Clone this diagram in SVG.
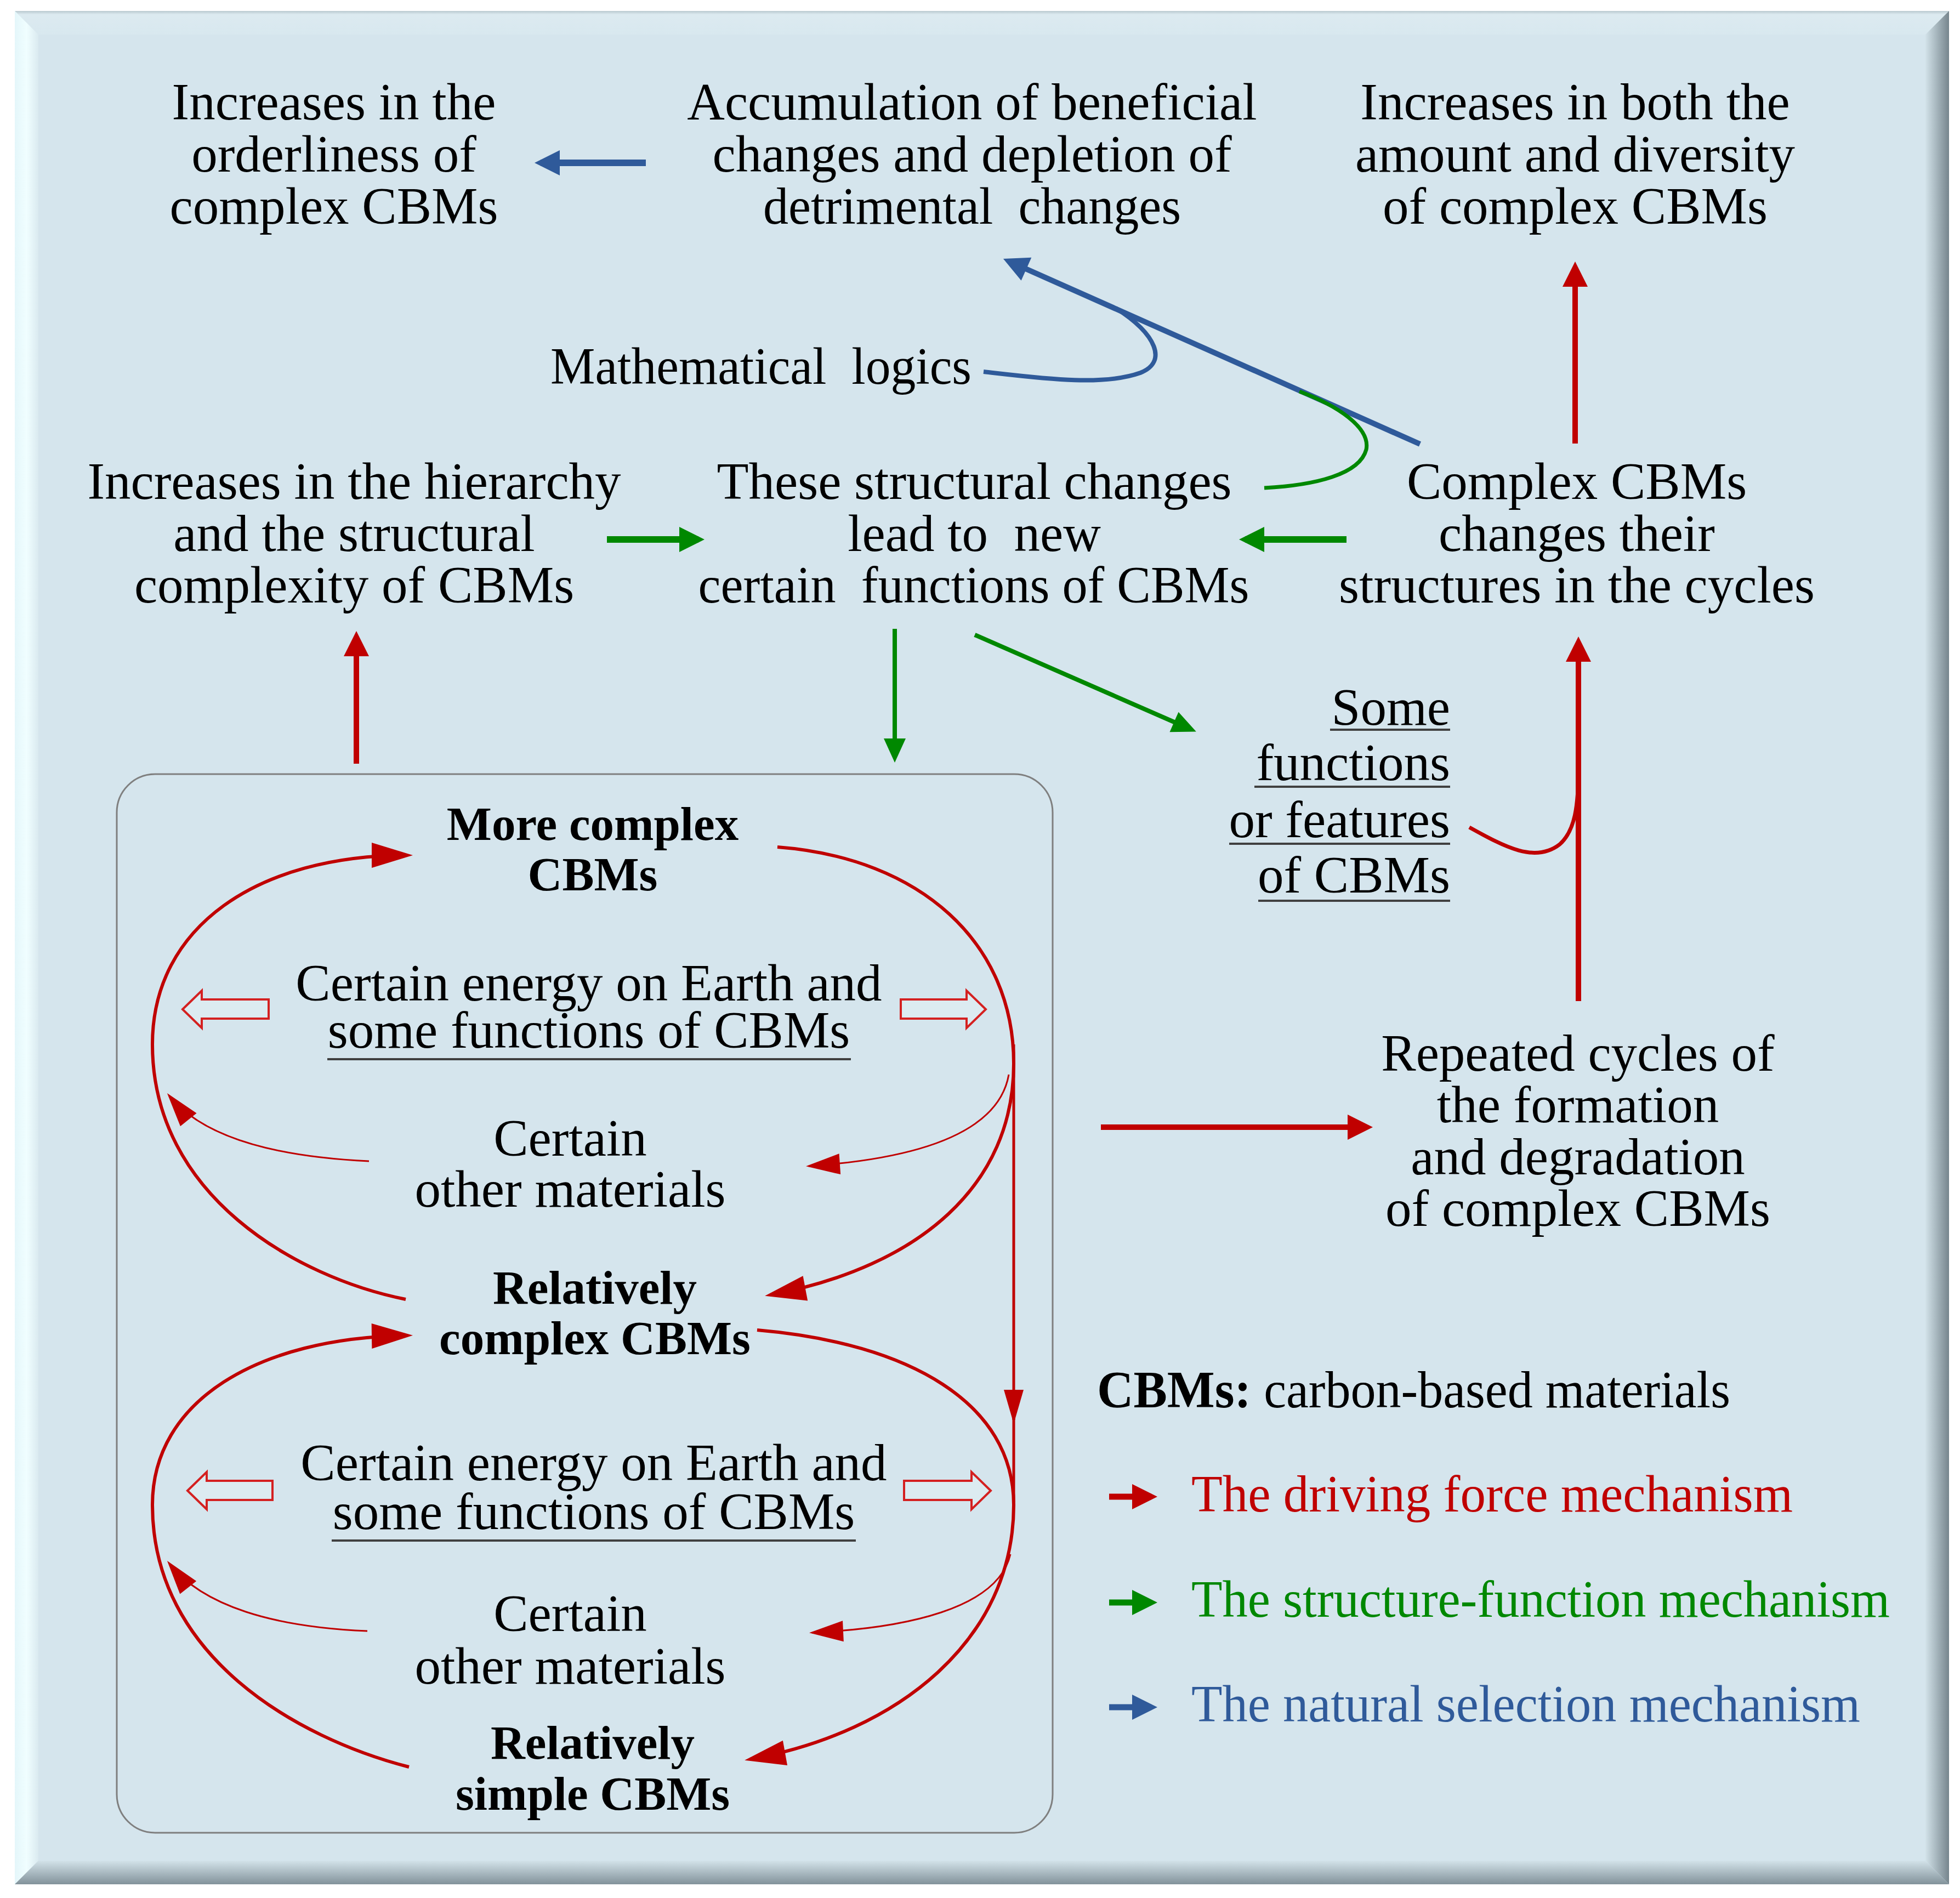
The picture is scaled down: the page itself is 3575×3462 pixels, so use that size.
<svg xmlns="http://www.w3.org/2000/svg" width="3575" height="3462" viewBox="0 0 3575 3462">
<style>
text{font-family:"Liberation Serif","Times New Roman",serif;font-size:95px;fill:#000}
.c{text-anchor:middle}
.e{text-anchor:end}
.b{font-weight:bold;font-size:87px}
.ul{stroke:#404040;stroke-width:4;fill:none}
.r{stroke:#C00000;fill:none}
.g{stroke:#008800;fill:none}
.bl{stroke:#2F5A9A;fill:none}
.hol{fill:#DCEBF1;stroke:#D42020;stroke-width:4;stroke-linejoin:miter}
</style>
<defs>
<linearGradient id="gTop" x1="0" y1="0" x2="0" y2="1"><stop offset="0" stop-color="#B9C9CF"/><stop offset="0.15" stop-color="#DCEAF0"/><stop offset="1" stop-color="#D8E8EF"/></linearGradient>
<linearGradient id="gLeft" x1="0" y1="0" x2="1" y2="0"><stop offset="0" stop-color="#E4F6FA"/><stop offset="0.5" stop-color="#F0FEFF"/><stop offset="1" stop-color="#DAEAF0"/></linearGradient>
<linearGradient id="gRight" x1="0" y1="0" x2="1" y2="0"><stop offset="0" stop-color="#D2E2E9"/><stop offset="1" stop-color="#76858D"/></linearGradient>
<linearGradient id="gBot" x1="0" y1="0" x2="0" y2="1"><stop offset="0" stop-color="#D2E2E9"/><stop offset="1" stop-color="#82929A"/></linearGradient>
<marker id="mR" markerUnits="userSpaceOnUse" markerWidth="46" markerHeight="46" refX="35" refY="23" orient="auto" overflow="visible"><path d="M0,0 L46,23 L0,46 z" fill="#C00000"/></marker>
<marker id="mG" markerUnits="userSpaceOnUse" markerWidth="46" markerHeight="46" refX="35" refY="23" orient="auto" overflow="visible"><path d="M0,0 L46,23 L0,46 z" fill="#008800"/></marker>
<marker id="mB" markerUnits="userSpaceOnUse" markerWidth="46" markerHeight="46" refX="35" refY="23" orient="auto" overflow="visible"><path d="M0,0 L46,23 L0,46 z" fill="#2F5A9A"/></marker>
<marker id="mGm" markerUnits="userSpaceOnUse" markerWidth="44" markerHeight="40" refX="30" refY="20" orient="auto" overflow="visible"><path d="M0,0 L44,20 L0,40 z" fill="#008800"/></marker>
<marker id="mRbig" markerUnits="userSpaceOnUse" markerWidth="75" markerHeight="46" refX="65" refY="23" orient="auto" overflow="visible"><path d="M0,0 L75,23 L0,46 z" fill="#C00000"/></marker>
<marker id="mRthin" markerUnits="userSpaceOnUse" markerWidth="62" markerHeight="38" refX="57" refY="19" orient="auto" overflow="visible"><path d="M0,0 L62,19 L0,38 z" fill="#C00000"/></marker>
<marker id="mRv" markerUnits="userSpaceOnUse" markerWidth="62" markerHeight="36" refX="55" refY="18" orient="auto" overflow="visible"><path d="M0,0 L62,18 L0,36 z" fill="#C00000"/></marker>
</defs>

<g id="frame">
<rect x="27" y="20" width="3528" height="3417" fill="#D5E5ED"/>
<polygon points="27,20 3555,20 3512,63 70,63" fill="url(#gTop)"/>
<polygon points="27,20 70,63 70,3394 27,3437" fill="url(#gLeft)"/>
<polygon points="3555,20 3555,3437 3512,3394 3512,63" fill="url(#gRight)"/>
<polygon points="27,3437 3555,3437 3512,3394 70,3394" fill="url(#gBot)"/>
<rect x="213" y="1412" width="1707" height="1931" rx="70" ry="70" fill="none" stroke="#7F7F7F" stroke-width="3"/>
</g>

<g id="connectors">
<!-- blue -->
<line class="bl" x1="1178" y1="297" x2="986" y2="297" stroke-width="12" marker-end="url(#mB)"/>
<line class="bl" x1="2590" y1="810" x2="1840" y2="476.5" stroke-width="10" marker-end="url(#mB)"/>
<path class="bl" d="M1794,678 C1900,690 2010,705 2080,680 C2130,660 2110,610 2035,562" stroke-width="8"/>
<!-- green -->
<path class="g" d="M2306,890 C2400,885 2480,865 2492,820 C2500,780 2440,740 2370,714" stroke-width="7"/>
<line class="g" x1="1107" y1="984" x2="1274" y2="984" stroke-width="12" marker-end="url(#mG)"/>
<line class="g" x1="2456" y1="984" x2="2271" y2="984" stroke-width="12" marker-end="url(#mG)"/>
<line class="g" x1="1632" y1="1147" x2="1632" y2="1377" stroke-width="8" marker-end="url(#mGm)"/>
<line class="g" x1="1778" y1="1158" x2="2169" y2="1329" stroke-width="8" marker-end="url(#mGm)"/>
<!-- red straight -->
<line class="r" x1="650" y1="1393" x2="650" y2="1162" stroke-width="10" marker-end="url(#mR)"/>
<line class="r" x1="2873" y1="809" x2="2873" y2="488" stroke-width="10" marker-end="url(#mR)"/>
<line class="r" x1="2879" y1="1826" x2="2879" y2="1172" stroke-width="10" marker-end="url(#mR)"/>
<line class="r" x1="2008" y1="2056" x2="2493" y2="2056" stroke-width="10" marker-end="url(#mR)"/>
<path class="r" d="M2680,1509 C2745,1545 2800,1575 2845,1540 C2873,1515 2879,1470 2879,1400" stroke-width="7"/>
<!-- top cycle -->
<path class="r" d="M740,2370 C540,2330 278,2180 278,1905 C278,1690 470,1560 743,1560" stroke-width="6" marker-end="url(#mRbig)"/>
<path class="r" d="M1418,1545 C1680,1565 1849,1720 1849,1940 C1849,2160 1680,2310 1405,2362" stroke-width="6" marker-end="url(#mRbig)"/>
<path class="r" d="M673,2118 C500,2110 370,2075 308,1998" stroke-width="3" marker-end="url(#mRthin)"/>
<path class="r" d="M1840,1960 C1820,2075 1650,2115 1475,2127" stroke-width="3" marker-end="url(#mRthin)"/>
<line class="r" x1="1849" y1="1905" x2="1849" y2="2590" stroke-width="5" marker-end="url(#mRv)"/>
<line class="r" x1="1849" y1="2560" x2="1849" y2="2740" stroke-width="5"/>
<!-- bottom cycle -->
<path class="r" d="M746,3223 C540,3170 278,3020 278,2745 C278,2555 470,2440 743,2436" stroke-width="6" marker-end="url(#mRbig)"/>
<path class="r" d="M1381,2426 C1660,2450 1849,2560 1849,2745 C1849,2990 1640,3160 1368,3209" stroke-width="6" marker-end="url(#mRbig)"/>
<path class="r" d="M670,2975 C500,2968 370,2930 308,2851" stroke-width="3" marker-end="url(#mRthin)"/>
<path class="r" d="M1843,2835 C1820,2935 1650,2970 1481,2978" stroke-width="3" marker-end="url(#mRthin)"/>
<!-- hollow arrows -->
<polygon class="hol" points="333,1841 368,1807 368,1823 490,1823 490,1858 368,1858 368,1875"/>
<polygon class="hol" points="1798,1841 1763,1807 1763,1823 1643,1823 1643,1858 1763,1858 1763,1875"/>
<polygon class="hol" points="342,2719 377,2685 377,2701 497,2701 497,2736 377,2736 377,2753"/>
<polygon class="hol" points="1807,2719 1772,2685 1772,2701 1649,2701 1649,2736 1772,2736 1772,2753"/>
</g>

<g id="n-orderliness"><text class="c" x="609" y="218">Increases in the</text><text class="c" x="609" y="313">orderliness of</text><text class="c" x="609" y="408">complex CBMs</text></g>
<g id="n-accumulation"><text class="c" x="1773" y="218">Accumulation of beneficial</text><text class="c" x="1773" y="313">changes and depletion of</text><text class="c" x="1773" y="408" xml:space="preserve" textLength="762" lengthAdjust="spacingAndGlyphs">detrimental  changes</text></g>
<g id="n-amount"><text class="c" x="2873" y="218">Increases in both the</text><text class="c" x="2873" y="313">amount and diversity</text><text class="c" x="2873" y="408">of complex CBMs</text></g>
<g id="n-math"><text x="1004" y="700" xml:space="preserve" textLength="768" lengthAdjust="spacingAndGlyphs">Mathematical  logics</text></g>
<g id="n-hierarchy"><text class="c" x="646" y="910">Increases in the hierarchy</text><text class="c" x="646" y="1005">and the structural</text><text class="c" x="646" y="1099">complexity of CBMs</text></g>
<g id="n-structural"><text class="c" x="1777" y="910">These structural changes</text><text class="c" x="1777" y="1005" xml:space="preserve">lead to  new</text><text class="c" x="1776" y="1099" xml:space="preserve" textLength="1005" lengthAdjust="spacingAndGlyphs">certain  functions of CBMs</text></g>
<g id="n-complex"><text class="c" x="2876" y="910">Complex CBMs</text><text class="c" x="2876" y="1005">changes their</text><text class="c" x="2876" y="1099">structures in the cycles</text></g>
<g id="n-some"><text class="e" x="2645" y="1322">Some</text><text class="e" x="2645" y="1423">functions</text><text class="e" x="2645" y="1527">or features</text><text class="e" x="2645" y="1628">of CBMs</text>
<line class="ul" x1="2426" y1="1331" x2="2645" y2="1331"/><line class="ul" x1="2288" y1="1435" x2="2645" y2="1435"/><line class="ul" x1="2242" y1="1539" x2="2645" y2="1539"/><line class="ul" x1="2295" y1="1643" x2="2645" y2="1643"/></g>
<g id="n-repeated"><text class="c" x="2878" y="1953">Repeated cycles of</text><text class="c" x="2878" y="2047">the formation</text><text class="c" x="2878" y="2142">and degradation</text><text class="c" x="2878" y="2236">of complex CBMs</text></g>

<g id="b-more"><text class="c b" x="1081" y="1532">More complex</text><text class="c b" x="1081" y="1624">CBMs</text></g>
<g id="b-energy1"><text class="c" x="1074" y="1825">Certain energy on Earth and</text><text class="c" x="1074" y="1911">some functions of CBMs</text><line class="ul" x1="597" y1="1932" x2="1552" y2="1932" stroke-width="5"/></g>
<g id="b-other1"><text class="c" x="1040" y="2108">Certain</text><text class="c" x="1040" y="2201">other materials</text></g>
<g id="b-relcomplex"><text class="c b" x="1085" y="2378">Relatively</text><text class="c b" x="1085" y="2470">complex CBMs</text></g>
<g id="b-energy2"><text class="c" x="1083" y="2700">Certain energy on Earth and</text><text class="c" x="1083" y="2789">some functions of CBMs</text><line class="ul" x1="605" y1="2810" x2="1561" y2="2810" stroke-width="5"/></g>
<g id="b-other2"><text class="c" x="1040" y="2975">Certain</text><text class="c" x="1040" y="3071">other materials</text></g>
<g id="b-relsimple"><text class="c b" x="1081" y="3208">Relatively</text><text class="c b" x="1081" y="3301">simple CBMs</text></g>

<g id="legend">
<text x="2001" y="2567" textLength="1155" lengthAdjust="spacingAndGlyphs"><tspan font-weight="bold">CBMs:</tspan> carbon-based materials</text>
<line class="r" x1="2023" y1="2730" x2="2100" y2="2730" stroke-width="11" marker-end="url(#mR)"/>
<text x="2173" y="2757" style="fill:#C00000" textLength="1097" lengthAdjust="spacingAndGlyphs">The driving force mechanism</text>
<line class="g" x1="2023" y1="2923" x2="2100" y2="2923" stroke-width="11" marker-end="url(#mG)"/>
<text x="2173" y="2949" style="fill:#008800" textLength="1274" lengthAdjust="spacingAndGlyphs">The structure-function mechanism</text>
<line class="bl" x1="2023" y1="3114" x2="2100" y2="3114" stroke-width="11" marker-end="url(#mB)"/>
<text x="2173" y="3140" style="fill:#2F5A9A" textLength="1220" lengthAdjust="spacingAndGlyphs">The natural selection mechanism</text>
</g>
</svg>
